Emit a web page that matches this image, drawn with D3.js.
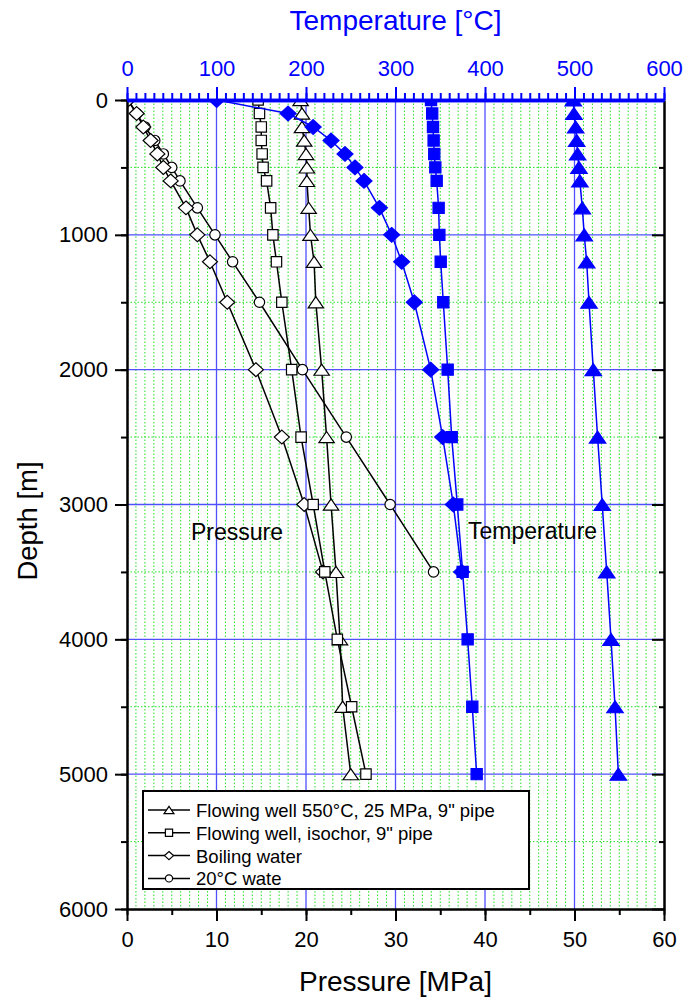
<!DOCTYPE html>
<html>
<head>
<meta charset="utf-8">
<script src="https://cdn.jsdelivr.net/npm/d3@7"></script>
<style>
    body { margin: 0; background: #fff; }
    text { font-family: 'Liberation Sans', Arial, sans-serif; }
</style>
</head>
<body>
<script>
// depths [m]
var depthLong = [0, 100, 200, 300, 400, 500, 600, 800, 1000, 1200, 1500, 2000, 2500, 3000, 3500, 4000, 4500, 5000];
var depthShort = [0, 100, 200, 300, 400, 500, 600, 800, 1000, 1200, 1500, 2000, 2500, 3000, 3500];

// pressure [MPa]
var pFlowing = [19.4, 19.55, 19.55, 19.8, 20.0, 20.1, 20.1, 20.3, 20.5, 20.9, 21.1, 21.75, 22.3, 22.8, 23.35, 23.8, 24.1, 25.0];
var pIsochor = [14.65, 14.8, 15.0, 15.0, 15.1, 15.2, 15.6, 16.05, 16.3, 16.7, 17.3, 18.4, 19.45, 20.8, 22.1, 23.5, 25.1, 26.7];
var pBoiling = [0.1, 1.08, 1.82, 2.64, 3.39, 4.06, 4.88, 6.59, 7.86, 9.27, 11.2, 14.4, 17.3, 19.8, 21.9];
var pCold = [0.1, 1.08, 2.0, 3.1, 4.06, 5.0, 5.92, 7.86, 9.83, 11.8, 14.8, 19.6, 24.5, 29.4, 34.25];

// temperature [°C]
var tFlowing = [498.7, 499.4, 501.3, 502.4, 503.5, 505, 506, 508.7, 510.9, 513.6, 516.2, 521, 525.8, 531, 536, 540.8, 545.3, 549];
var tIsochor = [339.7, 341, 341.9, 342.6, 343.3, 344.5, 346, 348.2, 349, 350.5, 353.4, 358.3, 362.8, 369, 375, 380.6, 385.8, 390.7];
var tBoiling = [100.2, 180, 208, 228, 243.6, 254.7, 264.8, 282, 295.7, 306.9, 321, 339.3, 352.7, 364.6, 373.9];

var legendNames = ['Flowing well 550°C, 25 MPa, 9" pipe', 'Flowing well, isochor, 9" pipe', 'Boiling water', '20°C wate'];
var legendShapes = ['triangle', 'square', 'diamond', 'circle'];

var pressureTicks = [0, 10, 20, 30, 40, 50, 60];
var tempTicks = [0, 100, 200, 300, 400, 500, 600];
var depthTicks = [0, 1000, 2000, 3000, 4000, 5000, 6000];

var BLUE = '#0000ff',
    FONT = "'Liberation Sans', Arial, sans-serif";

var plotL = 127, plotR = 664, plotT = 100, plotB = 909;

var xP = d3.scaleLinear().domain([0, 60]).range([plotL, plotR]),
    xT = d3.scaleLinear().domain([0, 600]).range([plotL, plotR]),
    y = d3.scaleLinear().domain([0, 6000]).range([plotT, plotB]);

var svg = d3.select('body').append('svg')
    .attr('width', 684)
    .attr('height', 997);

svg.append('clipPath').attr('id', 'plot')
    .append('rect')
    .attr('x', plotL).attr('y', plotT)
    .attr('width', plotR - plotL).attr('height', plotB - plotT);

// marker shapes, centred on 0,0
var shapePath = function(shape, s) {
    var h = s / 2;
    if (shape === 'triangle') {
        return 'M0,' + (-h * 0.8) + 'L' + (h * 1.1) + ',' + (h * 0.8) + 'L' + (-h * 1.1) + ',' + (h * 0.8) + 'Z';
    }
    if (shape === 'square') {
        return 'M' + (-h * 0.8) + ',' + (-h * 0.8) + 'h' + (s * 0.8) + 'v' + (s * 0.8) + 'h' + (-s * 0.8) + 'Z';
    }
    if (shape === 'diamond') {
        return 'M0,' + (-h * 0.92) + 'L' + h + ',0L0,' + (h * 0.92) + 'L' + (-h) + ',0Z';
    }
    return d3.symbol(d3.symbolCircle, Math.PI * (h * 0.8) * (h * 0.8))();
};

// grid
var grid = svg.append('g');

grid.selectAll('.vminor')
    .data(d3.range(1, 60).filter(function(v) { return v % 10 !== 0; }))
    .enter().append('line')
    .attr('x1', function(d) { return xP(d); })
    .attr('x2', function(d) { return xP(d); })
    .attr('y1', plotT).attr('y2', plotB)
    .attr('stroke', '#22e022')
    .attr('stroke-width', 1)
    .attr('stroke-dasharray', '1.5,2');

grid.selectAll('.hminor')
    .data(d3.range(500, 6000, 1000))
    .enter().append('line')
    .attr('x1', plotL).attr('x2', plotR)
    .attr('y1', function(d) { return y(d); })
    .attr('y2', function(d) { return y(d); })
    .attr('stroke', '#22e022')
    .attr('stroke-width', 1)
    .attr('stroke-dasharray', '1.5,2');

grid.selectAll('.vmajor')
    .data(pressureTicks.slice(1, -1))
    .enter().append('line')
    .attr('x1', function(d) { return xP(d); })
    .attr('x2', function(d) { return xP(d); })
    .attr('y1', plotT).attr('y2', plotB)
    .attr('stroke', '#5050ff')
    .attr('stroke-width', 1.3);

grid.selectAll('.hmajor')
    .data(depthTicks.slice(1, -1))
    .enter().append('line')
    .attr('x1', plotL).attr('x2', plotR)
    .attr('y1', function(d) { return y(d); })
    .attr('y2', function(d) { return y(d); })
    .attr('stroke', '#5050ff')
    .attr('stroke-width', 1.3);

// series
var series = [
    {depth: depthShort, values: pCold, x: xP, shape: 'circle', color: '#000', fill: '#fff', size: 13},
    {depth: depthShort, values: pBoiling, x: xP, shape: 'diamond', color: '#000', fill: '#fff', size: 15},
    {depth: depthLong, values: pFlowing, x: xP, shape: 'triangle', color: '#000', fill: '#fff', size: 14},
    {depth: depthLong, values: pIsochor, x: xP, shape: 'square', color: '#000', fill: '#fff', size: 13},
    {depth: depthShort, values: tBoiling, x: xT, shape: 'diamond', color: BLUE, fill: BLUE, size: 16},
    {depth: depthLong, values: tIsochor, x: xT, shape: 'square', color: BLUE, fill: BLUE, size: 14},
    {depth: depthLong, values: tFlowing, x: xT, shape: 'triangle', color: BLUE, fill: BLUE, size: 15}
];

var plot = svg.append('g').attr('clip-path', 'url(#plot)');

series.forEach(function(s) {
    var pts = s.depth.map(function(d, i) { return [s.x(s.values[i]), y(d)]; });

    plot.append('path')
        .attr('d', d3.line()(pts))
        .attr('fill', 'none')
        .attr('stroke', s.color)
        .attr('stroke-width', 1.5);

    plot.selectAll(null)
        .data(pts)
        .enter().append('path')
        .attr('transform', function(p) { return 'translate(' + p[0] + ',' + p[1] + ')'; })
        .attr('d', shapePath(s.shape, s.size))
        .attr('fill', s.fill)
        .attr('stroke', s.color)
        .attr('stroke-width', 1.2);
});

// axes
var styleAxis = function(g, color, width, size) {
    g.attr('font-family', FONT).attr('font-size', size);
    g.select('.domain').attr('stroke', color).attr('stroke-width', width);
    g.selectAll('.tick line').attr('stroke', color).attr('stroke-width', 2);
    g.selectAll('.tick text').attr('fill', color);
};

// bottom
svg.append('g').attr('transform', 'translate(0,' + plotB + ')')
    .call(d3.axisBottom(xP).tickValues(d3.range(0, 61, 5)).tickSize(6).tickSizeOuter(0).tickFormat(''))
    .call(styleAxis, '#000', 2, 22);
svg.append('g').attr('transform', 'translate(0,' + plotB + ')')
    .call(d3.axisBottom(xP).tickValues(pressureTicks).tickSize(12).tickSizeOuter(0).tickPadding(10))
    .call(styleAxis, '#000', 2, 22);

// left
svg.append('g').attr('transform', 'translate(' + plotL + ',0)')
    .call(d3.axisLeft(y).tickValues(d3.range(0, 6001, 500)).tickSize(6).tickSizeOuter(0).tickFormat(''))
    .call(styleAxis, '#000', 2, 22);
svg.append('g').attr('transform', 'translate(' + plotL + ',0)')
    .call(d3.axisLeft(y).tickValues(depthTicks).tickSize(12).tickSizeOuter(0).tickPadding(7).tickFormat(d3.format('d')))
    .call(styleAxis, '#000', 2, 22);

// right, ticks pointing in
svg.append('g').attr('transform', 'translate(' + plotR + ',0)')
    .call(d3.axisLeft(y).tickValues(d3.range(500, 6000, 1000)).tickSize(5).tickSizeOuter(0).tickFormat(''))
    .call(styleAxis, '#000', 2, 22);
svg.append('g').attr('transform', 'translate(' + plotR + ',0)')
    .call(d3.axisLeft(y).tickValues(depthTicks).tickSize(12).tickSizeOuter(0).tickFormat(''))
    .call(styleAxis, '#000', 2, 22);

// top, temperature
svg.append('g').attr('transform', 'translate(0,' + plotT + ')')
    .call(d3.axisTop(xT).tickValues(d3.range(0, 601, 10)).tickSize(7).tickSizeOuter(0).tickFormat(''))
    .call(styleAxis, BLUE, 3.5, 22);
svg.append('g').attr('transform', 'translate(0,' + plotT + ')')
    .call(d3.axisTop(xT).tickValues(tempTicks).tickSize(13).tickSizeOuter(0).tickPadding(11))
    .call(styleAxis, BLUE, 3.5, 22);

// titles
svg.append('text')
    .attr('x', (plotL + plotR) / 2).attr('y', 30)
    .attr('text-anchor', 'middle')
    .attr('font-size', 28)
    .attr('fill', BLUE)
    .text('Temperature [°C]');

svg.append('text')
    .attr('x', (plotL + plotR) / 2).attr('y', 991)
    .attr('text-anchor', 'middle')
    .attr('font-size', 28)
    .text('Pressure [MPa]');

svg.append('text')
    .attr('transform', 'translate(37,521) rotate(-90)')
    .attr('text-anchor', 'middle')
    .attr('font-size', 27.5)
    .text('Depth [m]');

svg.append('text')
    .attr('x', 191).attr('y', 540)
    .attr('font-size', 23)
    .text('Pressure');

svg.append('text')
    .attr('x', 468).attr('y', 539)
    .attr('font-size', 23)
    .text('Temperature');

// legend
var legend = svg.append('g');

legend.append('rect')
    .attr('x', 143).attr('y', 791)
    .attr('width', 386).attr('height', 98)
    .attr('fill', '#fff')
    .attr('stroke', '#000')
    .attr('stroke-width', 2);

var rows = legend.selectAll('.row')
    .data(legendNames)
    .enter().append('g')
    .attr('transform', function(d, i) { return 'translate(0,' + (810 + i * 22.8) + ')'; });

rows.append('line')
    .attr('x1', 148).attr('x2', 190)
    .attr('stroke', '#000')
    .attr('stroke-width', 1.5);

rows.append('path')
    .attr('transform', 'translate(169,0)')
    .attr('d', function(d, i) { return shapePath(legendShapes[i], 9); })
    .attr('fill', '#fff')
    .attr('stroke', '#000')
    .attr('stroke-width', 1.2);

rows.append('text')
    .attr('x', 196).attr('y', 7)
    .attr('font-size', 18.5)
    .text(function(d) { return d; });
</script>
</body>
</html>
